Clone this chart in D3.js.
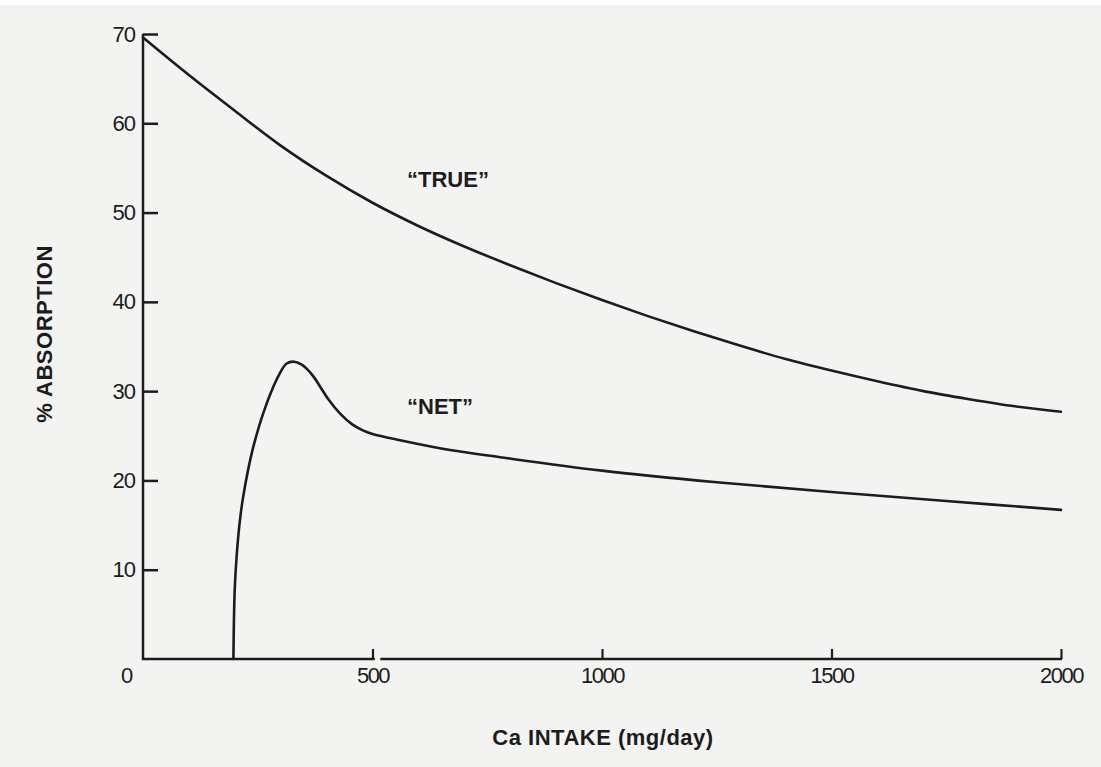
<!DOCTYPE html>
<html>
<head>
<meta charset="utf-8">
<script src="https://cdn.jsdelivr.net/npm/d3@7"></script>
<style>
  body { margin: 0; background: #f3f3f1; }
  svg { display: block; }
  text { fill: #1c1c1c; font-family: "Liberation Sans", Arial, sans-serif; }
</style>
</head>
<body>
<div id="chart"></div>
<script>
// values (mg/day, % absorption)
var trueIntake = [0, 100, 200, 300, 400, 500, 600, 700, 800, 900, 1000, 1100, 1200, 1300, 1400, 1500, 1600, 1700, 1800, 1900, 2000];
var trueAbsorb = [69.6, 65.4, 61.4, 57.5, 54.1, 51.1, 48.5, 46.2, 44.1, 42.1, 40.2, 38.4, 36.7, 35.1, 33.6, 32.3, 31.1, 30.0, 29.1, 28.3, 27.7];

var netIntake = [197, 198, 200, 204, 210, 218, 240, 270, 298, 313, 329, 345, 357, 372, 386, 405, 429, 455, 479, 500, 560, 669, 778, 1000, 1250, 1500, 1750, 2000];
var netAbsorb = [0, 4, 8, 11.5, 15, 18.1, 23.7, 28.7, 32.0, 33.1, 33.3, 33.0, 32.5, 31.6, 30.5, 29.0, 27.5, 26.3, 25.6, 25.2, 24.5, 23.4, 22.6, 21.1, 19.8, 18.7, 17.7, 16.7];

var xTicks = [500, 1000, 1500, 2000];
var yTicks = [10, 20, 30, 40, 50, 60, 70];

var width = 1101, height = 767;

var svg = d3.select("#chart").append("svg")
            .attr("width", width)
            .attr("height", height);

// white strip along the top edge of the scan
svg.append("rect")
   .attr("x", 0).attr("y", 0)
   .attr("width", width).attr("height", 5)
   .style("fill", "#ffffff");

var x = d3.scaleLinear().domain([0, 2000]).range([143, 1061]);
var y = d3.scaleLinear().domain([0, 70]).range([659, 34]);

var ink = "#1c1c1c";

// y axis, ticks pointing into the plot
var yAxis = svg.append("g")
               .attr("transform", "translate(" + x(0) + ",0)")
               .call(d3.axisLeft(y).tickValues(yTicks).tickSize(-15).tickPadding(8));
yAxis.select(".domain").remove();
yAxis.selectAll("line").style("stroke", ink).style("stroke-width", 2.5);
yAxis.selectAll("text")
     .style("font-size", "22px")
     .style("letter-spacing", "-1px")
     .style("fill", ink);

svg.append("line")
   .attr("x1", x(0)).attr("x2", x(0))
   .attr("y1", y(70)).attr("y2", y(0) + 1)
   .style("stroke", ink).style("stroke-width", 2.5);

// x axis, drawn with the small break right after 500
var xAxis = svg.append("g")
               .attr("transform", "translate(0," + y(0) + ")")
               .call(d3.axisBottom(x).tickValues(xTicks).tickFormat(d3.format("d"))
                       .tickSize(-10).tickPadding(8));
xAxis.select(".domain").remove();
xAxis.selectAll("line").style("stroke", ink).style("stroke-width", 2.2);
xAxis.selectAll("text")
     .style("font-size", "22px")
     .style("letter-spacing", "-1.5px")
     .style("fill", ink);

svg.append("line")
   .attr("x1", x(0) - 1).attr("x2", x(505))
   .attr("y1", y(0)).attr("y2", y(0))
   .style("stroke", ink).style("stroke-width", 2.5);
svg.append("line")
   .attr("x1", x(517)).attr("x2", x(2000) + 1)
   .attr("y1", y(0)).attr("y2", y(0))
   .style("stroke", ink).style("stroke-width", 2.5);

// shared origin label
svg.append("text")
   .attr("x", x(0) - 16)
   .attr("y", y(0) + 24)
   .attr("text-anchor", "middle")
   .style("font-size", "22px")
   .text("0");

// curves
var trueLine = d3.line()
                 .x(function(d) { return x(d[0]); })
                 .y(function(d) { return y(d[1]); })
                 .curve(d3.curveMonotoneX);

var netLine = d3.line()
                .x(function(d) { return x(d[0]); })
                .y(function(d) { return y(d[1]); })
                .curve(d3.curveCatmullRom.alpha(0.5));

var trueData = d3.zip(trueIntake, trueAbsorb);
var netData = d3.zip(netIntake, netAbsorb);

svg.append("path")
   .datum(trueData)
   .attr("d", trueLine)
   .style("fill", "none")
   .style("stroke", ink)
   .style("stroke-width", 2.6)
   .style("stroke-linecap", "round");

svg.append("path")
   .datum(netData)
   .attr("d", netLine)
   .style("fill", "none")
   .style("stroke", ink)
   .style("stroke-width", 2.6)
   .style("stroke-linecap", "round");

// curve labels
svg.append("text")
   .attr("x", 448).attr("y", 187)
   .attr("text-anchor", "middle")
   .style("font-size", "22px")
   .style("font-weight", "bold")
   .text("\u201CTRUE\u201D");

svg.append("text")
   .attr("x", 440).attr("y", 414)
   .attr("text-anchor", "middle")
   .style("font-size", "22px")
   .style("font-weight", "bold")
   .text("\u201CNET\u201D");

// axis titles
svg.append("text")
   .attr("x", 603).attr("y", 745)
   .attr("text-anchor", "middle")
   .style("font-size", "22px")
   .style("font-weight", "bold")
   .style("letter-spacing", "0.5px")
   .text("Ca INTAKE (mg/day)");

svg.append("text")
   .attr("transform", "translate(52,334) rotate(-90)")
   .attr("text-anchor", "middle")
   .style("font-size", "22px")
   .style("font-weight", "bold")
   .style("letter-spacing", "0.5px")
   .text("% ABSORPTION");
</script>
</body>
</html>
